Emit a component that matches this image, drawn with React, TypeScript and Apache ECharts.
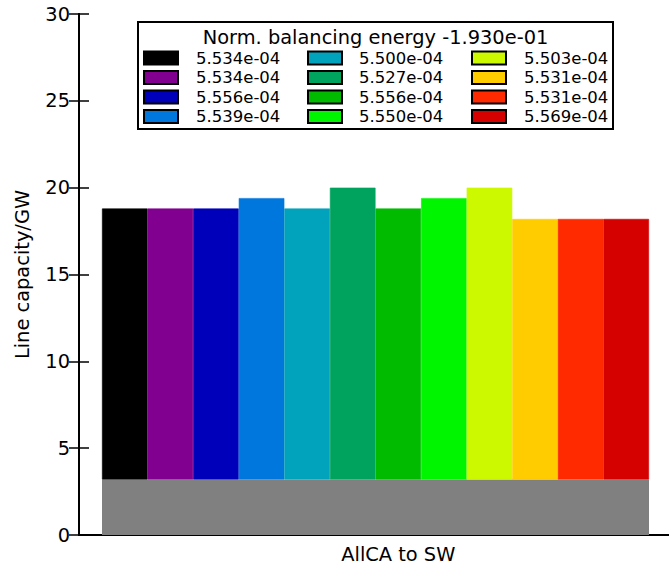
import React, { useEffect, useRef } from "react";
import * as echarts from "echarts";

// Line between the two regions, labelled under the bar group
const corridor = "AllCA to SW";
// Position (scenario index) where the corridor label sits
const corridorTickIndex = 6;
// Existing capacity shared by every scenario (GW)
const baseCapacity = 3.2;
// Total line capacity in each scenario (GW)
const totalCapacity = [18.8, 18.8, 18.8, 19.4, 18.8, 20.0, 18.8, 19.4, 20.0, 18.2, 18.2, 18.2];
// Normalised balancing energy of each scenario (legend entries)
const scenarioLabels = [
  "5.534e-04", "5.534e-04", "5.556e-04", "5.539e-04",
  "5.500e-04", "5.527e-04", "5.556e-04", "5.550e-04",
  "5.503e-04", "5.531e-04", "5.531e-04", "5.569e-04",
];
const scenarioColors = [
  "#000000", "#820090", "#0000bb", "#0077dd",
  "#00a3bb", "#00a35e", "#00bb00", "#00f500",
  "#ccf800", "#ffcc00", "#ff2a00", "#d50000",
];
const legendTitle = "Norm. balancing energy -1.930e-01";
const yTicks = [0, 5, 10, 15, 20, 25, 30];

const FONT = "DejaVu Sans";

function buildLegend() {
  const children: any[] = [
    {
      type: "rect",
      shape: { x: 138, y: 22, width: 475, height: 107 },
      style: { fill: "#fff", stroke: "#000", lineWidth: 2 },
    },
    {
      type: "text",
      x: 375.5,
      y: 37,
      style: {
        text: legendTitle,
        font: `19.4px '${FONT}'`,
        fill: "#000",
        align: "center",
        verticalAlign: "middle",
      },
    },
  ];
  const colX = [144, 308, 472];
  const textX = [196, 359, 524];
  const rowY = [58, 77.5, 97, 116.5];
  scenarioLabels.forEach((label, i) => {
    const col = Math.floor(i / 4);
    const row = i % 4;
    children.push({
      type: "rect",
      shape: { x: colX[col], y: rowY[row] - 6.5, width: 34, height: 13 },
      style: { fill: scenarioColors[i], stroke: "#000", lineWidth: 2 },
    });
    children.push({
      type: "text",
      x: textX[col],
      y: rowY[row],
      style: {
        text: label,
        font: `16.5px '${FONT}'`,
        fill: "#000",
        align: "left",
        verticalAlign: "middle",
      },
    });
  });
  return { type: "group", children };
}

export default function App() {
  const ref = useRef<HTMLDivElement>(null);

  useEffect(() => {
    document.body.style.margin = "0";
    if (!ref.current) return;
    const chart = echarts.init(ref.current, undefined, { renderer: "svg" });

    const frameGrid = { left: 79, right: -2, top: 14, bottom: 29, outerBoundsMode: "none", containLabel: false };
    const barGrid = { left: 102, right: 20, top: 14, bottom: 29, outerBoundsMode: "none", containLabel: false };
    const spine = { show: true, lineStyle: { color: "#000", width: 2 } };
    const inTick = { show: true, inside: true, length: 10, lineStyle: { color: "#000", width: 1.5 } };

    const option: any = {
      animation: false,
      backgroundColor: "#fff",
      textStyle: { fontFamily: FONT },
      grid: [frameGrid, barGrid],
      xAxis: [
        {
          gridIndex: 0,
          type: "value",
          min: 0,
          max: 1,
          position: "bottom",
          axisLine: spine,
          axisTick: { show: false },
          axisLabel: { show: false },
          splitLine: { show: false },
        },
        {
          gridIndex: 0,
          type: "value",
          min: 0,
          max: 1,
          position: "top",
          axisLine: spine,
          axisTick: { show: false },
          axisLabel: { show: false },
          splitLine: { show: false },
        },
        {
          gridIndex: 1,
          type: "category",
          position: "bottom",
          data: scenarioLabels.map((_, i) => String(i)),
          axisLine: { show: false },
          axisTick: { show: false },
          splitLine: { show: false },
          axisLabel: {
            interval: 0,
            margin: 10,
            lineHeight: 18,
            fontFamily: FONT,
            fontSize: 19.4,
            color: "#000",
            formatter: (_v: string, idx: number) => (idx === corridorTickIndex ? corridor : ""),
          },
        },
        {
          gridIndex: 1,
          type: "category",
          data: [corridor],
          show: false,
        },
      ],
      yAxis: [
        {
          gridIndex: 0,
          type: "value",
          min: 0,
          max: 30,
          interval: 5,
          position: "left",
          axisLine: spine,
          axisTick: inTick,
          axisLabel: {
            margin: 9,
            fontFamily: FONT,
            fontSize: 19.4,
            color: "#000",
            formatter: (v: number) => (yTicks.includes(v) ? String(v) : ""),
          },
          splitLine: { show: false },
          name: "Line capacity/GW",
          nameLocation: "middle",
          nameGap: 47,
          nameTextStyle: { fontFamily: FONT, fontSize: 19.4, color: "#000" },
        },
        {
          gridIndex: 0,
          type: "value",
          min: 0,
          max: 30,
          interval: 5,
          position: "right",
          axisLine: spine,
          axisTick: inTick,
          axisLabel: { show: false },
          splitLine: { show: false },
        },
        {
          gridIndex: 1,
          type: "value",
          min: 0,
          max: 30,
          show: false,
        },
      ],
      series: [
        {
          name: "existing",
          type: "bar",
          xAxisIndex: 3,
          yAxisIndex: 2,
          barWidth: "100%",
          data: [baseCapacity],
          itemStyle: { color: "#808080" },
          silent: true,
        },
        {
          name: "offset",
          type: "bar",
          xAxisIndex: 2,
          yAxisIndex: 2,
          stack: "capacity",
          barWidth: "100%",
          data: totalCapacity.map(() => baseCapacity),
          itemStyle: { color: "rgba(0,0,0,0)" },
          silent: true,
        },
        {
          name: "expansion",
          type: "bar",
          xAxisIndex: 2,
          yAxisIndex: 2,
          stack: "capacity",
          barWidth: "100%",
          data: totalCapacity.map((t, i) => ({
            value: +(t - baseCapacity).toFixed(3),
            itemStyle: { color: scenarioColors[i], borderColor: scenarioColors[i], borderWidth: 0.6 },
          })),
        },
      ],
      graphic: [buildLegend()],
    };

    chart.setOption(option);
    return () => chart.dispose();
  }, []);

  return <div ref={ref} style={{ width: 669, height: 564 }} />;
}
